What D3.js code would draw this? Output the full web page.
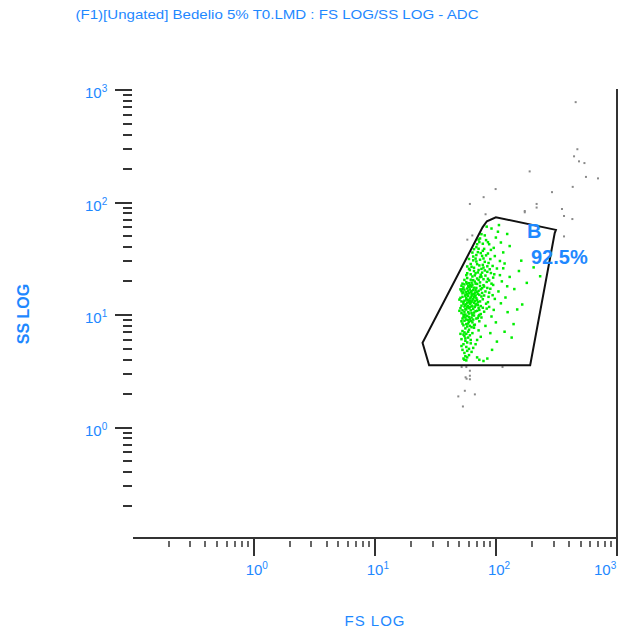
<!DOCTYPE html>
<html>
<head>
<meta charset="utf-8">
<script src="https://cdn.jsdelivr.net/npm/d3@7"></script>
<style>
  body { margin: 0; background: #fff; }
  svg { display: block; }
</style>
</head>
<body>
<svg id="plot" width="618" height="632"></svg>
<script>
"use strict";

// FS LOG / SS LOG histogram, values in channel units
var title = "(F1)[Ungated] Bedelio 5% T0.LMD : FS LOG/SS LOG - ADC";
var xLabel = "FS LOG";
var yLabel = "SS LOG";
var decadeLabels = [1, 10, 100, 1000];

// gate B polygon [fs, ss]
var gateB = [[24.8, 5.66], [28.1, 3.58], [192, 3.58], [306, 53.5], [313, 57.1],
    [100, 73.9], [84.3, 68.1], [77.6, 60.2]];
var gateName = "B";
var gatePercent = "92.5%";

// events inside gate B
var gatedEvents = [
    [52,12.1],[55,13.4],[57,11.2],[59,14.8],[61,12.6],[63,10.4],[54,15.9],[58,17.2],[60,9.6],[62,16.1],
    [65,13.9],[67,11.8],[56,10.1],[53,9.3],[58,12.9],[61,18.4],[64,15.2],[66,9.9],[69,14.1],[71,12.3],
    [51,14.2],[55,16.8],[57,19.6],[60,11.5],[63,13.1],[66,17.5],[68,10.8],[72,16.4],[74,13.2],[53,11.0],
    [56,12.2],[59,10.6],[62,14.3],[64,11.9],[67,15.8],[70,18.9],[73,11.1],[76,14.6],[54,13.0],[57,14.1],
    [60,15.6],[63,17.9],[65,20.4],[58,21.3],[61,9.2],[64,8.6],[52,10.4],[55,8.9],[58,9.8],[69,12.5],
    [71,9.4],[75,10.2],[77,17.3],[55,18.7],[59,13.6],[62,11.0],[66,12.8],[68,16.6],[52,16.3],[56,14.7],
    [60,13.0],[63,15.5],[57,16.0],[54,12.6],[61,14.0],[65,11.3],[70,13.6],[73,15.1],[67,19.8],[62,20.6],
    [58,15.3],[54,17.6],[51,11.5],[56,9.5],[60,10.3],[64,13.5],[68,14.9],[72,9.8],[75,12.0],[78,11.6],
    [53,14.5],[57,12.5],[59,18.0],[63,12.1],[66,14.4],[70,10.9],[62,8.9],[59,8.4],[55,10.7],[52,13.2],
    [65,16.7],[69,17.4],[71,15.4],[74,18.1],[61,16.9],[58,11.7],[56,15.2],[53,17.0],[60,19.2],[64,22.0],
    [66,10.5],[70,21.1],[57,13.7],[62,12.9],[67,13.3],[55,11.9],[59,12.0],[63,14.8],[61,11.7],[65,9.1],
    [68,19.0],[72,20.5],[76,21.9],[79,18.4],[82,16.2],[84,19.7],[87,14.5],[90,17.1],[78,13.8],[80,10.7],
    [83,12.6],[76,9.5],[73,8.8],[70,16.0],[74,19.5],[77,23.8],[81,24.9],[86,21.0],[89,25.5],[92,19.0],
    [71,23.9],[67,22.5],[64,18.6],[66,26.3],[69,29.9],[73,27.6],[76,25.7],[79,31.8],[83,33.9],[87,29.0],
    [62,28.4],[65,33.1],[68,31.7],[70,42.6],[75,35.5],[78,37.2],[72,46.8],[81,51.0],[86,44.4],[91,37.9],
    [58,23.5],[61,25.1],[63,19.4],[57,22.6],[55,20.5],[53,19.0],[52,18.2],[51,16.9],[50,13.7],[50,10.9],
    [73,10.0],[71,13.0],[77,15.7],[80,14.9],[75,16.9],[79,20.8],[85,17.4],[88,11.8],[94,15.0],[97,23.0],
    [66,15.3],[68,12.2],[64,10.0],[61,13.3],[59,16.4],[56,11.3],[54,10.1],[60,17.8],[63,16.3],[67,14.7],
    [69,9.3],[72,11.6],[66,8.1],[63,9.5],[60,8.7],[57,9.1],[55,9.9],[53,15.6],[58,19.0],[62,18.0],
    [54,8.1],[56,7.6],[58,7.9],[53,7.2],[57,6.8],[60,7.4],[55,6.5],[52,6.1],[56,5.9],[59,6.3],
    [54,5.5],[57,5.2],[53,4.9],[55,4.6],[58,4.8],[56,4.3],[54,4.1],[57,3.95],[60,4.4],[62,5.6],
    [64,6.9],[61,8.0],[66,7.7],[63,4.7],[52,5.3],[55,7.0],[58,5.7],[54,6.7],[53,8.4],[57,8.3],
    [59,7.1],[56,6.2],[51,6.8],[62,6.0],[65,5.1],[68,5.5],[70,4.2],[73,4.0],[60,5.0],[55,4.0],
    [58,4.2],[61,6.6],[63,7.8],[67,8.2],[72,7.3],[75,6.4],[70,6.0],[59,9.0],[54,9.6],[52,8.8],
    [68,23.5],[72,25.1],[75,22.8],[79,26.4],[70,28.3],[74,31.0],[66,24.6],[63,26.8],[81,29.7],[85,24.2],
    [77,33.5],[71,36.2],[69,40.1],[73,44.5],[74,47.9],[80,38.7],[86,35.2],[90,31.4],[94,27.3],[88,42.6],
    [83,46.3],[96,39.5],[100,48.8],[104,55.0],[92,58.7],[110,44.1],[115,36.0],[108,30.2],[98,33.4],[76,52.3],
    [84,61.0],[78,27.9],[65,30.6],[62,23.0],[60,25.7],[72,38.8],[85,27.1],[91,23.6],[102,25.9],[118,28.7],
    [69,34.1],[74,21.7],[82,22.4],[88,20.3],[95,21.5],[64,35.9],[78,43.0],[106,63.0],[124,52.5],[130,41.0],
    [95,18.5],[105,16.2],[112,19.9],[120,14.3],[130,21.8],[142,17.0],[155,24.6],[165,12.4],[180,19.3],[232,22.1],
    [205,26.5],[150,11.2],[125,10.6],[110,12.7],[98,13.9],[88,15.8],[84,11.4],[92,9.7],[100,8.6],[118,7.1],
    [135,6.3],[102,5.8],[93,4.9],[85,4.1],[79,3.9],[90,6.9],[82,8.0],[140,8.3],[115,26.0],[162,30.4],
    [80,17.9],[86,13.0],[96,11.1],[108,22.6],[124,18.0],[60,31.5],[58,27.0],[66,38.5]
];

// events outside the gate
var otherEvents = [
    [458,776],[473,296],[444,256],[488,231],[541,223],[557,168],[700,163],[191,188],[433,137],[292,123],
    [100,131],[79.6,111],[61.3,96.6],[82.6,78.2],[174,83.6],[174,81.4],[218,96.6],[218,89.7],[353,87.1],[367,75.5],
    [430,70.9],[367,49.7],[58.4,46.5],[64.2,50.7],[52.4,3.43],[57.3,3.43],[61.3,3.18],[56.5,2.78],[57.6,2.70],[61.3,2.87],
    [61.3,2.67],[55.7,2.11],[49.2,1.88],[67.4,1.96],[53.7,1.53],[114,3.43]
];

var blue = "#1e88ff";
var axisColor = "#333";
var font = "Liberation Sans, Arial, sans-serif";
var dot = 2.5;

var svg = d3.select("#plot");

var x = d3.scaleLog().domain([0.1, 1000]).range([132.5, 617]);
var y = d3.scaleLog().domain([0.1, 1000]).range([540, 90]);
var axisY = 538;

// title
svg.append("text")
    .attr("x", 277).attr("y", 19)
    .attr("text-anchor", "middle")
    .attr("textLength", 403)
    .attr("lengthAdjust", "spacingAndGlyphs")
    .style("font-family", font)
    .style("font-size", "13.5px")
    .style("fill", blue)
    .text(title);

// ticks, skip the 0.1 end of each scale
var tickVals = x.ticks().filter(function(d) { return d > 0.11; });
var isMajor = function(d) { return Math.abs(Math.log10(d) - Math.round(Math.log10(d))) < 1e-6; };

// x axis
svg.append("line")
    .attr("x1", 133).attr("x2", x(1000))
    .attr("y1", axisY).attr("y2", axisY)
    .attr("stroke", axisColor).attr("stroke-width", 2);
svg.append("line")
    .attr("x1", x(1000)).attr("x2", x(1000))
    .attr("y1", y(1000) - 1).attr("y2", axisY)
    .attr("stroke", axisColor).attr("stroke-width", 2);

svg.append("g").selectAll("line")
    .data(tickVals)
  .enter().append("line")
    .attr("x1", function(d) { return Math.round(x(d)); })
    .attr("x2", function(d) { return Math.round(x(d)); })
    .attr("y1", function(d) { return isMajor(d) ? axisY : axisY + 3; })
    .attr("y2", function(d) { return isMajor(d) ? axisY + 18 : axisY + 9; })
    .attr("stroke", axisColor)
    .attr("stroke-width", function(d) { return isMajor(d) ? 2 : 1.5; });

// y axis (no spine, ticks only)
svg.append("g").selectAll("line")
    .data(y.ticks().filter(function(d) { return d > 0.11; }))
  .enter().append("line")
    .attr("y1", function(d) { return Math.round(y(d)); })
    .attr("y2", function(d) { return Math.round(y(d)); })
    .attr("x1", function(d) { return isMajor(d) ? 115 : 123; })
    .attr("x2", 132)
    .attr("stroke", axisColor)
    .attr("stroke-width", 2);

function powerLabel(sel, d) {
    sel.append("tspan").text("10");
    sel.append("tspan")
        .attr("dy", -6)
        .style("font-size", "10px")
        .text(Math.round(Math.log10(d)));
}

// last label is pulled in so it stays on the page
svg.append("g").selectAll("text")
    .data(decadeLabels)
  .enter().append("text")
    .attr("x", function(d) { return Math.min(x(d) - 8, 594); })
    .attr("y", 575)
    .style("font-family", font)
    .style("font-size", "15px")
    .style("fill", blue)
    .each(function(d) { powerLabel(d3.select(this), d); });

svg.append("g").selectAll("text")
    .data(decadeLabels)
  .enter().append("text")
    .attr("x", 85)
    .attr("y", function(d) { return y(d) + 8; })
    .style("font-family", font)
    .style("font-size", "15px")
    .style("fill", blue)
    .each(function(d) { powerLabel(d3.select(this), d); });

// axis titles
svg.append("text")
    .attr("x", 375).attr("y", 626)
    .attr("text-anchor", "middle")
    .style("font-family", font)
    .style("font-size", "15px")
    .style("letter-spacing", "1px")
    .style("fill", blue)
    .text(xLabel);

svg.append("text")
    .attr("transform", "translate(29,314) rotate(-90)")
    .attr("text-anchor", "middle")
    .style("font-family", font)
    .style("font-size", "16px")
    .style("font-weight", "bold")
    .style("fill", blue)
    .text(yLabel);

// events
svg.append("g").selectAll("rect")
    .data(otherEvents)
  .enter().append("rect")
    .attr("x", function(d) { return x(d[0]) - dot / 2; })
    .attr("y", function(d) { return y(d[1]) - dot / 2; })
    .attr("width", 2).attr("height", 2)
    .attr("fill", "#8a8a8a");

svg.append("g").selectAll("rect")
    .data(gatedEvents)
  .enter().append("rect")
    .attr("x", function(d) { return x(d[0]) - dot / 2; })
    .attr("y", function(d) { return y(d[1]) - dot / 2; })
    .attr("width", dot).attr("height", dot)
    .attr("fill", "#00ee00");

// gate
var gateLine = d3.line()
    .x(function(d) { return x(d[0]); })
    .y(function(d) { return y(d[1]); });

svg.append("path")
    .attr("d", gateLine(gateB) + "Z")
    .attr("fill", "none")
    .attr("stroke", "#111")
    .attr("stroke-width", 2);

svg.append("text")
    .attr("x", 527).attr("y", 238)
    .style("font-family", font)
    .style("font-size", "20px")
    .style("font-weight", "bold")
    .style("fill", blue)
    .text(gateName);

svg.append("text")
    .attr("x", 531).attr("y", 264)
    .style("font-family", font)
    .style("font-size", "20px")
    .style("font-weight", "bold")
    .style("fill", blue)
    .text(gatePercent);
</script>
</body>
</html>
